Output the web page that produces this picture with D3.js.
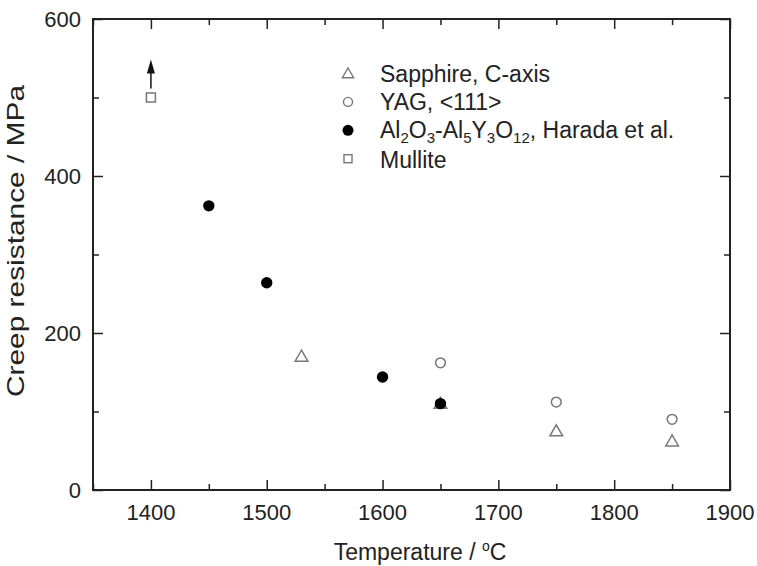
<!DOCTYPE html>
<html><head><meta charset="utf-8">
<script src="https://cdn.jsdelivr.net/npm/d3@7"></script>
<style>body{margin:0;background:#fff}svg{display:block}text{font-family:Arial,"Liberation Sans",sans-serif;fill:#222}</style>
</head><body><svg id="c" width="757" height="566"></svg>
<script>
const xTicks = [1400,1500,1600,1700,1800,1900];
const yTicks = [0,200,400,600];
const sapphireT = [1530,1650,1750,1850];
const sapphireV = [170,110,75,62];
const yagT = [1650,1750,1850];
const yagV = [162,112,90];
const haradaT = [1450,1500,1600,1650];
const haradaV = [362,264,144,110];
const mulliteT = [1400];
const mulliteV = [500];
const legendLabels = ["Sapphire, C-axis","YAG, <111>","Al2O3-Al5Y3O12, Harada et al.","Mullite"];

const svg = d3.select("#c");
const L=93,R=730,T=19,B=490;
const x = d3.scaleLinear().domain([1350,1900]).range([L,R]);
const y = d3.scaleLinear().domain([0,600]).range([B,T]);
const grey="#777", ink="#222";

const g = svg.append("g");
const minorX = d3.range(1350,1901,50).filter(v=>!xTicks.includes(v));
const minorY = d3.range(100,600,200);
function ticks(axisGen, tr, major, minor){
  const a = g.append("g").attr("transform",tr);
  a.call(axisGen.tickValues(major).tickSizeInner(-10).tickSizeOuter(0).tickFormat(""));
  a.selectAll(".domain").remove();
  a.selectAll("line").attr("stroke",ink).attr("stroke-width",1.5);
  const b = g.append("g").attr("transform",tr);
  b.call(axisGen.tickValues(minor).tickSizeInner(-6).tickSizeOuter(0).tickFormat(""));
  b.selectAll(".domain").remove();
  b.selectAll("line").attr("stroke",ink).attr("stroke-width",1.5);
}
ticks(d3.axisBottom(x),`translate(0,${B})`,xTicks,minorX);
ticks(d3.axisTop(x),`translate(0,${T})`,xTicks,minorX);
ticks(d3.axisLeft(y),`translate(${L},0)`,yTicks,minorY);
ticks(d3.axisRight(y),`translate(${R},0)`,yTicks,minorY);
g.append("rect").attr("x",L).attr("y",T).attr("width",R-L).attr("height",B-T)
 .attr("fill","none").attr("stroke",ink).attr("stroke-width",2);

// tick labels
g.selectAll(".xl").data(xTicks).enter().append("text")
 .attr("x",d=>x(d)).attr("y",B+30).attr("text-anchor","middle").attr("font-size",22).text(d=>d);
g.selectAll(".yl").data(yTicks).enter().append("text")
 .attr("x",L-12).attr("y",d=>y(d)+8).attr("text-anchor","end").attr("font-size",22).text(d=>d);

// axis titles
const xt = g.append("text").attr("x",420).attr("y",560).attr("text-anchor","middle").attr("font-size",23);
xt.append("tspan").text("Temperature / ");
xt.append("tspan").attr("dy",-9).attr("font-size",14).text("o");
xt.append("tspan").attr("dy",9).text("C");
g.append("text").attr("transform",`translate(24,241) rotate(-90)`).attr("text-anchor","middle")
 .attr("font-size",24).attr("textLength",312).attr("lengthAdjust","spacingAndGlyphs")
 .text("Creep resistance / MPa");

// markers
const tri = d3.symbol().type(d3.symbolTriangle).size(70);
g.selectAll(null).data(sapphireT.map((t,i)=>[t,sapphireV[i]])).enter().append("path")
 .attr("d",tri).attr("transform",d=>`translate(${x(d[0])},${y(d[1])+1})`)
 .attr("fill","none").attr("stroke",grey).attr("stroke-width",1.5);
g.selectAll(null).data(yagT.map((t,i)=>[t,yagV[i]])).enter().append("circle")
 .attr("cx",d=>x(d[0])).attr("cy",d=>y(d[1])).attr("r",4.9)
 .attr("fill","none").attr("stroke",grey).attr("stroke-width",1.5);
g.selectAll(null).data(haradaT.map((t,i)=>[t,haradaV[i]])).enter().append("circle")
 .attr("cx",d=>x(d[0])).attr("cy",d=>y(d[1])).attr("r",5.7).attr("fill","#000");
g.selectAll(null).data(mulliteT.map((t,i)=>[t,mulliteV[i]])).enter().append("rect")
 .attr("x",d=>x(d[0])-4.5).attr("y",d=>y(d[1])-4.5).attr("width",9).attr("height",9)
 .attr("fill","none").attr("stroke",grey).attr("stroke-width",1.5);
// arrow above mullite point (lower bound)
mulliteT.forEach((t,i)=>{
  const sx=x(t), sy=y(mulliteV[i]);
  g.append("line").attr("x1",sx).attr("x2",sx).attr("y1",sy-9).attr("y2",sy-28).attr("stroke","#111").attr("stroke-width",1.5);
  g.append("path").attr("d",`M${sx},${sy-38} L${sx-4},${sy-24} L${sx+4},${sy-24} Z`).attr("fill","#111");
});

// legend
const lg = g.append("g").attr("transform","translate(348,73.5)");
const rowH = 28.4;
lg.append("path").attr("d",d3.symbol().type(d3.symbolTriangle).size(55)).attr("transform","translate(0,1)")
  .attr("fill","none").attr("stroke",grey).attr("stroke-width",1.4);
lg.append("circle").attr("cx",0).attr("cy",rowH).attr("r",4.5).attr("fill","none").attr("stroke",grey).attr("stroke-width",1.4);
lg.append("circle").attr("cx",0).attr("cy",2*rowH).attr("r",5.5).attr("fill","#000");
lg.append("rect").attr("x",-4).attr("y",3*rowH-4).attr("width",8).attr("height",8).attr("fill","none").attr("stroke",grey).attr("stroke-width",1.4);
const tx = 32, ty = 8;
lg.append("text").attr("x",tx).attr("y",ty).attr("font-size",23).text(legendLabels[0]);
lg.append("text").attr("x",tx).attr("y",rowH+ty).attr("font-size",23).text(legendLabels[1]);
const t3 = lg.append("text").attr("x",tx).attr("y",2*rowH+ty).attr("font-size",23);
const parts = [["Al",0],["2",1],["O",0],["3",1],["-Al",0],["5",1],["Y",0],["3",1],["O",0],["12",1],[", Harada et al.",0]];
let prevSub=false;
parts.forEach(([s,sub])=>{
  const ts=t3.append("tspan").text(s);
  if(sub){ts.attr("font-size",15).attr("dy",prevSub?0:5);}
  else{ if(prevSub) ts.attr("dy",-5); }
  prevSub=!!sub;
});
lg.append("text").attr("x",tx).attr("y",3*rowH+ty+1).attr("font-size",23).text(legendLabels[3]);
</script></body></html>
